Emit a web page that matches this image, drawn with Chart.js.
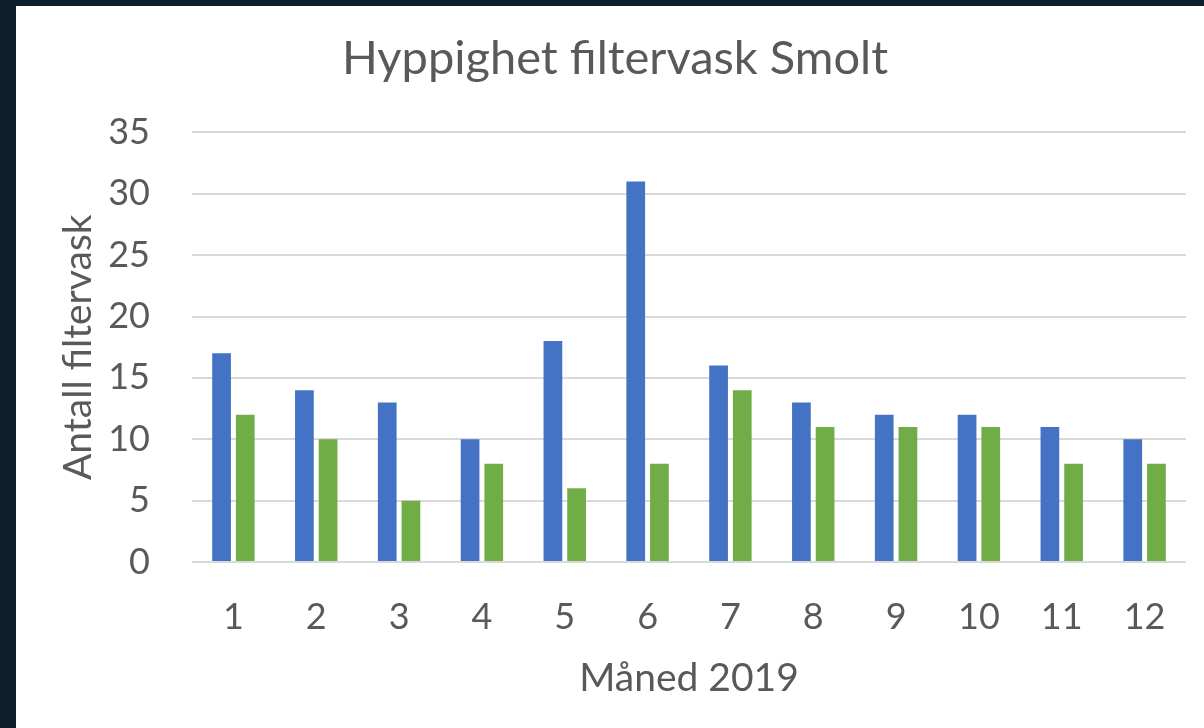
<!DOCTYPE html>
<html>
<head>
<meta charset="utf-8">
<script src="https://cdn.jsdelivr.net/npm/chart.js@4"></script>
<style>
  html, body { margin: 0; padding: 0; background: #0d1f2d; }
  #boks { position: absolute; left: 16px; top: 6px; width: 1188px; height: 722px; background: #ffffff; }
  #myChart { display: block; }
</style>
</head>
<body>
<div id="boks"><canvas id="myChart" width="1188" height="722"></canvas></div>
<script>
// data
const maaneder = ['1', '2', '3', '4', '5', '6', '7', '8', '9', '10', '11', '12']
const serie_a = [17, 14, 13, 10, 18, 31, 16, 13, 12, 12, 11, 10]
const serie_b = [12, 10, 5, 8, 6, 8, 14, 11, 11, 11, 8, 8]
const y_ticks = [0, 5, 10, 15, 20, 25, 30, 35]

const tittel = 'Hyppighet filtervask Smolt'
const x_tittel = 'Måned 2019'
const y_tittel = 'Antall filtervask'

const font = 'Lato'
const grå = '#595959'

const ctx = document.getElementById('myChart')

var grafico = new Chart(ctx, {
    type: 'bar',
    data: {
        labels: maaneder,
        datasets: [
            { label: 'Serie 1', data: serie_a, backgroundColor: '#4472c4', borderWidth: 0,
              categoryPercentage: 0.572, barPercentage: 0.79 },
            { label: 'Serie 2', data: serie_b, backgroundColor: '#70ad47', borderWidth: 0,
              categoryPercentage: 0.572, barPercentage: 0.79 }
        ]
    },
    options: {
        responsive: false,
        animation: false,
        layout: { padding: { left: 28, right: 18, top: 0, bottom: 0 } },
        plugins: {
            legend: { display: false },
            tooltip: { enabled: false },
            title: {
                display: true,
                text: tittel,
                color: grå,
                font: { family: font, size: 47, weight: 'normal' },
                padding: { top: 25, bottom: 45 }
            }
        },
        scales: {
            x: {
                grid: { display: false },
                border: { display: false },
                ticks: { color: grå, font: { family: font, size: 36 }, padding: 26, maxRotation: 0 },
                title: { display: true, text: x_tittel, color: grå,
                         font: { family: font, size: 39 }, padding: { top: 0, bottom: 26 } },
                afterFit: (s) => { s.height = 166 }
            },
            y: {
                min: 0,
                max: 35,
                afterBuildTicks: (s) => { s.ticks = y_ticks.map(v => ({ value: v })) },
                grid: { color: '#d9d9d9', lineWidth: 2, drawTicks: false },
                border: { display: false },
                ticks: { color: grå, font: { family: font, size: 36 }, padding: 42 },
                title: { display: true, text: y_tittel, color: grå,
                         font: { family: font, size: 39 }, padding: { top: 11, bottom: 0 } },
                afterFit: (s) => { s.width = 148 }
            }
        }
    }
});
</script>
</body>
</html>
